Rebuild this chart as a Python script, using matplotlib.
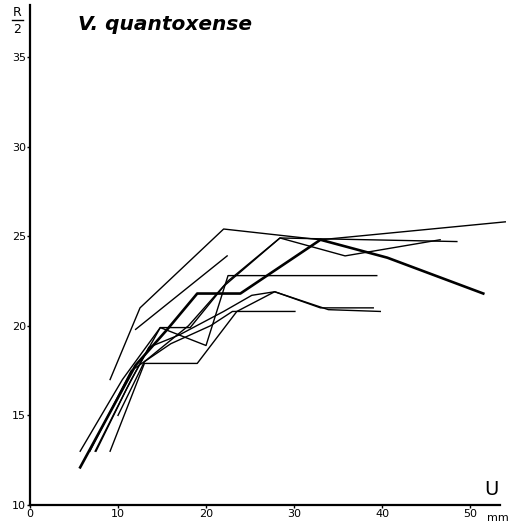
import matplotlib
matplotlib.use("Agg")
import matplotlib.pyplot as plt

plt.rcParams['font.family'] = ['DejaVu Sans']

# Data: growth curves (U in mm, R/2)
x1 = [9.1, 12.5, 22.0, 33.0, 54.0]
y1 = [17.0, 21.0, 25.4, 24.8, 25.8]
x2 = [5.7, 12.0, 15.6, 19.0, 23.9, 33.0, 40.6, 51.5]
y2 = [12.1, 17.8, 19.8, 21.8, 21.8, 24.8, 23.8, 21.8]
x3 = [12.0, 22.4]
y3 = [19.8, 23.9]
x4 = [7.4, 11.5, 14.8, 20.0, 22.5, 39.4]
y4 = [13.0, 17.0, 19.9, 18.9, 22.8, 22.8]
x5 = [9.1, 13.0, 19.0, 23.5, 27.8, 33.9, 39.8]
y5 = [13.0, 17.9, 17.9, 20.8, 21.9, 20.9, 20.8]
x6 = [5.7, 10.5, 14.8, 18.2, 22.0, 28.4, 35.8, 46.6]
y6 = [13.0, 17.0, 19.9, 19.9, 22.2, 24.9, 23.9, 24.8]
x7 = [6.8, 11.5, 16.0, 20.5, 23.0, 30.1]
y7 = [13.0, 17.5, 19.0, 20.0, 20.8, 20.8]
x8 = [7.5, 11.0, 13.5, 17.0, 22.0, 25.2, 27.8, 33.0, 39.0]
y8 = [13.0, 16.5, 18.8, 19.5, 20.8, 21.7, 21.9, 21.0, 21.0]
x9 = [10.0, 13.0, 18.0, 22.5, 28.4, 48.5]
y9 = [15.0, 18.0, 20.0, 22.5, 24.9, 24.7]

thin_series = [(x1, y1), (x3, y3), (x4, y4), (x5, y5), (x6, y6),
               (x7, y7), (x8, y8), (x9, y9)]
thick_series = [(x2, y2)]

xticks = [0, 10, 20, 30, 40, 50]
xticklabels = ['0', '10', '20', '30', '40', '50']
yticks = [10, 15, 20, 25, 30, 35]
yticklabels = ['10', '15', '20', '25', '30', '35']

fig = plt.figure(figsize=(5.15, 5.25), dpi=100)
ax = fig.add_axes([30/515, 20/525, 470/515, 500/525])
ax.set_xlim(0, 53.4)
ax.set_ylim(10, 37.9)

for xs, ys in thin_series:
    ax.plot(xs, ys, color='black', lw=1.0, clip_on=False)
for xs, ys in thick_series:
    ax.plot(xs, ys, color='black', lw=1.9, clip_on=False)

for s in ['top', 'right']:
    ax.spines[s].set_visible(False)
ax.spines['left'].set_linewidth(1.6)
ax.spines['bottom'].set_linewidth(1.6)

ax.set_xticks(xticks)
ax.set_xticklabels(xticklabels)
ax.set_yticks(yticks)
ax.set_yticklabels(yticklabels)
ax.tick_params(axis='both', direction='out', length=2.5, width=1.0,
               labelsize=8, pad=0.5)

ax.text(51.9, 9.1, 'mm', fontsize=8, ha='left', va='baseline')
ax.text(52.4, 10.35, 'U', fontsize=14, ha='center', va='bottom')
ax.text(-1.45, 37.5, 'R', fontsize=9, ha='center', va='center', clip_on=False)
ax.plot([-2.1, -0.8], [37.04, 37.04], color='black', lw=1.0, clip_on=False)
ax.text(-1.45, 36.55, '2', fontsize=9, ha='center', va='center', clip_on=False)
ax.text(5.5, 36.8, 'V. quantoxense', fontsize=14.5, fontweight='bold',
        fontstyle='italic', ha='left', va='center')

fig.savefig('out.png', dpi=100)
